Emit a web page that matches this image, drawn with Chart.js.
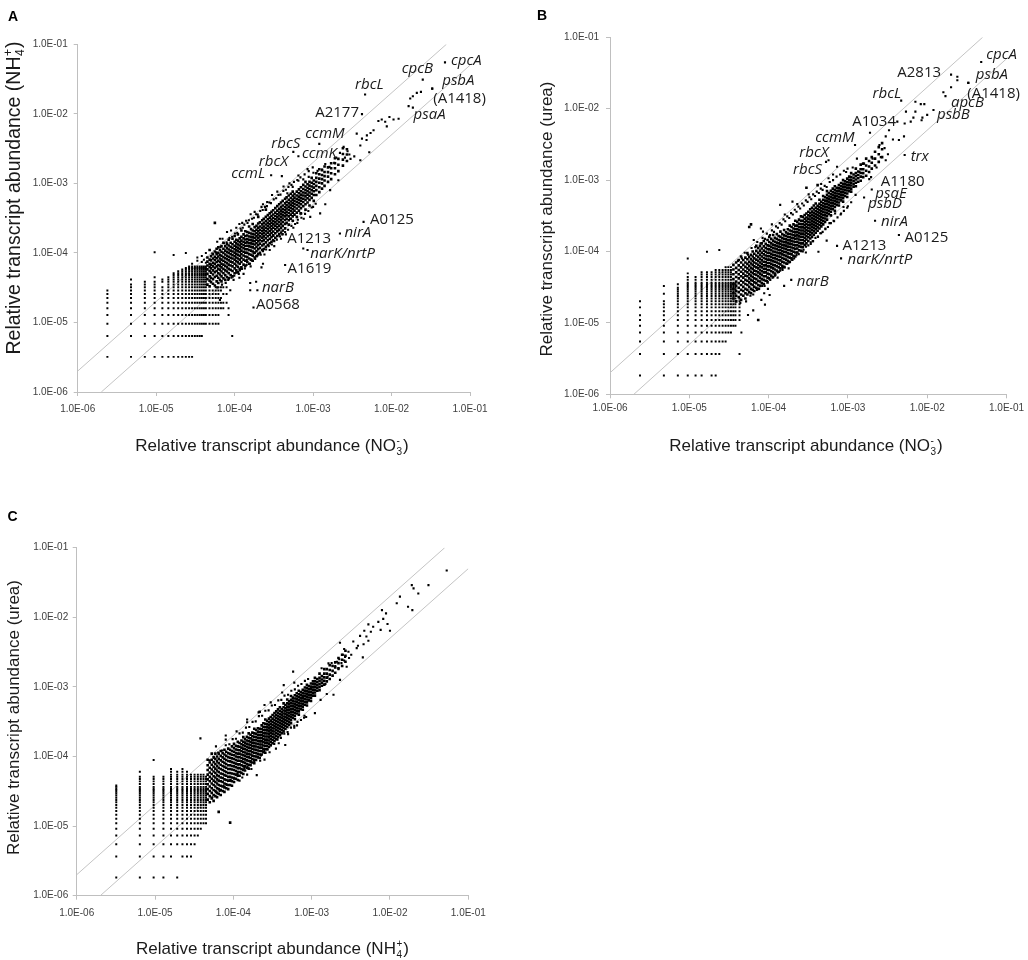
<!DOCTYPE html>
<html>
<head>
<meta charset="utf-8">
<title>Relative transcript abundance</title>
<script src="https://cdn.jsdelivr.net/npm/chart.js@4.4.1/dist/chart.umd.min.js"></script>
<style>
  html, body { margin: 0; padding: 0; background: #fff; }
  body { position: relative; width: 1028px; height: 960px; overflow: hidden; }
  canvas { position: absolute; }
</style>
</head>
<body>
<canvas id="panelA" width="514" height="470" style="left:0;top:0"></canvas>
<canvas id="panelB" width="514" height="470" style="left:514px;top:0"></canvas>
<canvas id="panelC" width="514" height="490" style="left:0;top:470px"></canvas>
<script>
// axis ticks shared by all three panels
const decadeTicks = [1e-6, 1e-5, 1e-4, 1e-3, 1e-2, 1e-1];
const decadeLabels = ['1.0E-06', '1.0E-05', '1.0E-04', '1.0E-03', '1.0E-02', '1.0E-01'];

// two-fold guide lines
const twoFoldUp = [[1e-6, 2e-6], [5e-2, 1e-1]];
const twoFoldDown = [[2e-6, 1e-6], [1e-1, 5e-2]];

// ---- panel A: NO3- (x) vs NH4+ (y) ----
// low-count genes sit on a grid: [x, [y values in that column]]
const gridA = [
  [2.39e-6, [3.2e-6,6.4e-6,9.6e-6,1.28e-5,1.6e-5,1.92e-5,2.24e-5,2.56e-5,2.88e-5]],
  [4.78e-6, [3.2e-6,6.4e-6,9.6e-6,1.28e-5,1.6e-5,1.92e-5,2.24e-5,2.56e-5,2.88e-5,3.2e-5,3.52e-5,4.16e-5]],
  [7.17e-6, [3.2e-6,6.4e-6,9.6e-6,1.28e-5,1.6e-5,1.92e-5,2.24e-5,2.56e-5,2.88e-5,3.2e-5,3.52e-5,3.84e-5]],
  [9.56e-6, [3.2e-6,6.4e-6,9.6e-6,1.28e-5,1.6e-5,1.92e-5,2.24e-5,2.56e-5,2.88e-5,3.2e-5,3.52e-5,3.84e-5,4.48e-5,1.02e-4]],
  [1.2e-5, [3.2e-6,6.4e-6,9.6e-6,1.28e-5,1.6e-5,1.92e-5,2.24e-5,2.56e-5,2.88e-5,3.2e-5,3.84e-5,4.16e-5]],
  [1.43e-5, [3.2e-6,6.4e-6,9.6e-6,1.28e-5,1.6e-5,1.92e-5,2.24e-5,2.56e-5,2.88e-5,3.2e-5,3.52e-5,3.84e-5,4.16e-5,4.48e-5]],
  [1.67e-5, [3.2e-6,6.4e-6,9.6e-6,1.28e-5,1.6e-5,1.92e-5,2.24e-5,2.56e-5,2.88e-5,3.2e-5,3.52e-5,3.84e-5,4.16e-5,4.48e-5,4.8e-5,5.12e-5,9.3e-5]],
  [1.91e-5, [3.2e-6,6.4e-6,9.6e-6,1.28e-5,1.6e-5,1.92e-5,2.24e-5,2.56e-5,2.88e-5,3.2e-5,3.52e-5,3.84e-5,4.16e-5,4.48e-5,4.8e-5,5.12e-5,5.44e-5]],
  [2.15e-5, [3.2e-6,6.4e-6,9.6e-6,1.28e-5,1.6e-5,1.92e-5,2.24e-5,2.56e-5,2.88e-5,3.2e-5,3.52e-5,3.84e-5,4.16e-5,4.48e-5,4.8e-5,5.12e-5,5.44e-5,5.76e-5]],
  [2.39e-5, [3.2e-6,6.4e-6,9.6e-6,1.28e-5,1.6e-5,1.92e-5,2.24e-5,2.56e-5,2.88e-5,3.2e-5,3.52e-5,3.84e-5,4.16e-5,4.48e-5,4.8e-5,5.12e-5,5.44e-5,5.76e-5,6.08e-5,1.0e-4]],
  [2.63e-5, [3.2e-6,6.4e-6,9.6e-6,1.28e-5,1.6e-5,1.92e-5,2.24e-5,2.56e-5,2.88e-5,3.2e-5,3.52e-5,3.84e-5,4.16e-5,4.48e-5,4.8e-5,5.12e-5,5.44e-5,5.76e-5,6.08e-5,6.4e-5]],
  [2.87e-5, [3.2e-6,6.4e-6,9.6e-6,1.28e-5,1.6e-5,1.92e-5,2.24e-5,2.56e-5,2.88e-5,3.2e-5,3.52e-5,3.84e-5,4.16e-5,4.48e-5,4.8e-5,5.12e-5,5.44e-5,5.76e-5,6.08e-5,6.4e-5,7.0e-5]],
  [3.11e-5, [6.4e-6,9.6e-6,1.28e-5,1.6e-5,1.92e-5,2.24e-5,2.56e-5,2.88e-5,3.2e-5,3.52e-5,3.84e-5,4.16e-5,4.48e-5,4.8e-5,5.12e-5,5.44e-5,5.76e-5,6.08e-5,6.4e-5]],
  [3.35e-5, [6.4e-6,9.6e-6,1.28e-5,1.6e-5,1.92e-5,2.24e-5,2.56e-5,2.88e-5,3.2e-5,3.52e-5,3.84e-5,4.16e-5,4.48e-5,4.8e-5,5.12e-5,5.44e-5,5.76e-5,6.08e-5,6.4e-5,7.7e-5,8.6e-5]],
  [3.59e-5, [6.4e-6,9.6e-6,1.28e-5,1.6e-5,1.92e-5,2.24e-5,2.56e-5,2.88e-5,3.2e-5,3.52e-5,3.84e-5,4.16e-5,4.48e-5,4.8e-5,5.12e-5,5.44e-5,5.76e-5,6.08e-5,6.4e-5]],
  [3.82e-5, [6.4e-6,9.6e-6,1.28e-5,1.6e-5,1.92e-5,2.24e-5,2.56e-5,2.88e-5,3.2e-5,3.52e-5,3.84e-5,4.16e-5,4.48e-5,4.8e-5,5.12e-5,5.44e-5,5.76e-5,6.08e-5,6.4e-5,7.4e-5,9.0e-5]],
  [4.06e-5, [9.6e-6,1.28e-5,1.6e-5,1.92e-5,2.24e-5,2.56e-5,2.88e-5,3.2e-5,3.52e-5,3.84e-5,4.16e-5,4.48e-5,4.8e-5,5.12e-5,5.44e-5,5.76e-5,6.08e-5,6.4e-5,8.0e-5]],
  [4.3e-5, [9.6e-6,1.28e-5,1.6e-5,1.92e-5,2.24e-5,2.56e-5,2.88e-5,3.2e-5,3.52e-5,3.84e-5,4.16e-5,4.48e-5,4.8e-5,5.12e-5,5.44e-5,5.76e-5,6.08e-5,6.4e-5,7.2e-5,1.0e-4]],
  [4.78e-5, [9.6e-6,1.28e-5,1.6e-5,1.92e-5,2.24e-5,2.56e-5,2.88e-5]],
  [5.26e-5, [9.6e-6,1.28e-5,1.6e-5,1.92e-5,2.24e-5,2.56e-5,2.88e-5]],
  [5.74e-5, [9.6e-6,1.28e-5,1.6e-5,1.92e-5,2.24e-5,2.56e-5,2.88e-5,3.2e-5]],
  [6.21e-5, [9.6e-6,1.28e-5,1.6e-5,1.92e-5,2.24e-5,2.56e-5,2.88e-5,3.2e-5]],
  [6.69e-5, [1.6e-5,1.92e-5,2.24e-5,2.88e-5,3.2e-5]],
  [7.17e-5, [1.6e-5,1.92e-5,2.56e-5,3.2e-5]],
  [7.9e-5, [1.92e-5,2.56e-5,3.2e-5]],
  [8.37e-5, [1.28e-5,1.6e-5]],
  [9.32e-5, [6.4e-6]]
];
// dense part of the cloud: [x, [y values]]
const cloudA = [
  [4.5e-5, [3.5e-5,4.2e-5,5.0e-5,5.8e-5,6.6e-5,7.5e-5,8.6e-5]],
  [4.8e-5, [3.3e-5,4.0e-5,4.6e-5,5.5e-5,6.3e-5,7.0e-5,8.0e-5,1.1e-4]],
  [5.0e-5, [3.8e-5,4.4e-5,5.2e-5,6.0e-5,6.8e-5,7.8e-5,9.0e-5]],
  [5.3e-5, [3.6e-5,4.2e-5,4.9e-5,5.6e-5,6.4e-5,7.2e-5,8.3e-5,9.6e-5]],
  [5.6e-5, [3.4e-5,4.5e-5,5.3e-5,6.1e-5,7.0e-5,7.9e-5,8.8e-5,1.05e-4,2.7e-4]],
  [5.9e-5, [3.9e-5,4.7e-5,5.5e-5,6.4e-5,7.4e-5,8.4e-5,9.6e-5,1.15e-4]],
  [6.2e-5, [3.7e-5,4.4e-5,5.1e-5,5.9e-5,6.7e-5,7.7e-5,8.9e-5,1.0e-4,1.2e-4]],
  [6.5e-5, [4.1e-5,4.9e-5,5.7e-5,6.5e-5,7.4e-5,8.3e-5,9.4e-5,1.1e-4]],
  [6.8e-5, [3.9e-5,4.6e-5,5.4e-5,6.2e-5,7.0e-5,8.0e-5,9.1e-5,1.04e-4,1.25e-4]],
  [7.2e-5, [4.3e-5,5.1e-5,5.9e-5,6.8e-5,7.7e-5,8.7e-5,1.0e-4,1.15e-4,1.4e-4]],
  [7.6e-5, [4.1e-5,4.8e-5,5.6e-5,6.5e-5,7.4e-5,8.4e-5,9.5e-5,1.08e-4,1.25e-4]],
  [8.0e-5, [4.5e-5,5.4e-5,6.2e-5,7.1e-5,8.1e-5,9.1e-5,1.03e-4,1.17e-4,1.35e-4]],
  [8.4e-5, [4.3e-5,5.1e-5,5.9e-5,6.8e-5,7.8e-5,8.8e-5,1.0e-4,1.12e-4,1.28e-4,1.55e-4]],
  [8.9e-5, [4.8e-5,5.7e-5,6.6e-5,7.5e-5,8.5e-5,9.6e-5,1.08e-4,1.22e-4,1.4e-4]],
  [9.4e-5, [4.6e-5,5.5e-5,6.4e-5,7.3e-5,8.3e-5,9.3e-5,1.05e-4,1.18e-4,1.33e-4,1.6e-4]],
  [1.0e-4, [5.1e-5,6.0e-5,7.0e-5,8.0e-5,9.0e-5,1.01e-4,1.13e-4,1.27e-4,1.45e-4,1.75e-4]],
  [1.05e-4, [5.6e-5,6.6e-5,7.6e-5,8.6e-5,9.7e-5,1.09e-4,1.22e-4,1.37e-4,1.55e-4]],
  [1.1e-4, [5.3e-5,6.3e-5,7.3e-5,8.3e-5,9.4e-5,1.06e-4,1.18e-4,1.32e-4,1.5e-4,1.85e-4]],
  [1.16e-4, [5.9e-5,7.0e-5,8.0e-5,9.1e-5,1.03e-4,1.15e-4,1.28e-4,1.43e-4,1.62e-4]],
  [1.22e-4, [6.2e-5,7.4e-5,8.5e-5,9.6e-5,1.08e-4,1.21e-4,1.35e-4,1.5e-4,1.7e-4,2.1e-4]],
  [1.3e-4, [6.8e-5,8.0e-5,9.2e-5,1.04e-4,1.17e-4,1.3e-4,1.45e-4,1.62e-4,1.85e-4]],
  [1.37e-4, [6.5e-5,7.7e-5,8.9e-5,1.01e-4,1.13e-4,1.26e-4,1.4e-4,1.56e-4,1.75e-4,2.05e-4]],
  [1.45e-4, [7.4e-5,8.7e-5,1.0e-4,1.13e-4,1.27e-4,1.42e-4,1.58e-4,1.78e-4,2.0e-4]],
  [1.53e-4, [7.0e-5,8.3e-5,9.6e-5,1.1e-4,1.24e-4,1.38e-4,1.54e-4,1.72e-4,1.95e-4,2.4e-4]],
  [1.62e-4, [8.0e-5,9.4e-5,1.08e-4,1.22e-4,1.37e-4,1.53e-4,1.7e-4,1.9e-4,2.2e-4]],
  [1.7e-4, [7.7e-5,9.1e-5,1.05e-4,1.2e-4,1.35e-4,1.5e-4,1.67e-4,1.86e-4,2.1e-4,2.6e-4]],
  [1.8e-4, [8.6e-5,1.01e-4,1.16e-4,1.32e-4,1.48e-4,1.65e-4,1.84e-4,2.05e-4,2.35e-4]],
  [1.9e-4, [9.0e-5,1.06e-4,1.22e-4,1.38e-4,1.55e-4,1.73e-4,1.93e-4,2.15e-4,2.45e-4]],
  [2.0e-4, [9.6e-5,1.13e-4,1.3e-4,1.47e-4,1.65e-4,1.84e-4,2.05e-4,2.3e-4,2.65e-4,3.3e-4]],
  [2.1e-4, [1.0e-4,1.18e-4,1.36e-4,1.54e-4,1.73e-4,1.93e-4,2.15e-4,2.4e-4,2.75e-4]],
  [2.25e-4, [1.1e-4,1.28e-4,1.47e-4,1.66e-4,1.86e-4,2.07e-4,2.3e-4,2.57e-4,2.95e-4]],
  [2.35e-4, [1.14e-4,1.33e-4,1.53e-4,1.73e-4,1.94e-4,2.16e-4,2.4e-4,2.7e-4,3.1e-4]],
  [2.5e-4, [1.22e-4,1.42e-4,1.63e-4,1.84e-4,2.06e-4,2.3e-4,2.56e-4,2.87e-4,3.3e-4,4.2e-4]],
  [2.65e-4, [1.3e-4,1.52e-4,1.74e-4,1.96e-4,2.2e-4,2.45e-4,2.72e-4,3.05e-4,3.5e-4]],
  [2.8e-4, [1.38e-4,1.6e-4,1.83e-4,2.07e-4,2.32e-4,2.58e-4,2.88e-4,3.22e-4,3.7e-4]],
  [2.95e-4, [1.45e-4,1.69e-4,1.93e-4,2.18e-4,2.44e-4,2.72e-4,3.03e-4,3.4e-4,3.9e-4]],
  [3.1e-4, [1.52e-4,1.77e-4,2.03e-4,2.3e-4,2.57e-4,2.86e-4,3.18e-4,3.57e-4,4.1e-4]],
  [3.3e-4, [1.65e-4,1.92e-4,2.2e-4,2.47e-4,2.75e-4,3.05e-4,3.4e-4,3.8e-4,4.4e-4]],
  [3.5e-4, [1.75e-4,2.04e-4,2.33e-4,2.62e-4,2.92e-4,3.25e-4,3.6e-4,4.05e-4,4.7e-4]],
  [3.7e-4, [1.85e-4,2.16e-4,2.47e-4,2.78e-4,3.1e-4,3.45e-4,3.82e-4,4.3e-4,5.0e-4]],
  [3.9e-4, [1.97e-4,2.3e-4,2.62e-4,2.95e-4,3.28e-4,3.65e-4,4.05e-4,4.55e-4,5.3e-4]],
  [4.1e-4, [2.1e-4,2.45e-4,2.78e-4,3.12e-4,3.47e-4,3.85e-4,4.27e-4,4.8e-4,5.6e-4]],
  [4.4e-4, [2.25e-4,2.62e-4,2.98e-4,3.35e-4,3.72e-4,4.13e-4,4.58e-4,5.15e-4,6.0e-4]],
  [4.6e-4, [2.7e-4,3.1e-4,3.5e-4,3.9e-4,4.35e-4,4.85e-4,5.45e-4,6.3e-4]],
  [4.9e-4, [2.55e-4,2.95e-4,3.35e-4,3.75e-4,4.17e-4,4.63e-4,5.15e-4,5.8e-4,6.7e-4]],
  [5.2e-4, [3.1e-4,3.55e-4,4.0e-4,4.45e-4,4.95e-4,5.5e-4,6.15e-4,7.1e-4]],
  [5.5e-4, [2.9e-4,3.35e-4,3.8e-4,4.25e-4,4.72e-4,5.25e-4,5.85e-4,6.6e-4,7.6e-4]],
  [5.8e-4, [3.55e-4,4.05e-4,4.55e-4,5.05e-4,5.6e-4,6.25e-4,7.0e-4]],
  [6.2e-4, [3.3e-4,3.8e-4,4.35e-4,4.88e-4,5.42e-4,6.0e-4,6.7e-4,7.6e-4]],
  [6.6e-4, [4.05e-4,4.65e-4,5.2e-4,5.8e-4,6.45e-4,7.2e-4,8.2e-4]],
  [7.0e-4, [3.7e-4,4.4e-4,5.0e-4,5.6e-4,6.2e-4,6.9e-4,7.7e-4,8.8e-4]],
  [7.5e-4, [4.7e-4,5.4e-4,6.0e-4,6.7e-4,7.4e-4,8.3e-4,9.5e-4]],
  [8.0e-4, [4.2e-4,5.0e-4,5.8e-4,6.5e-4,7.2e-4,8.0e-4,9.0e-4,1.05e-3]],
  [8.5e-4, [5.3e-4,6.1e-4,6.9e-4,7.7e-4,8.6e-4,9.7e-4]],
  [9.0e-4, [4.8e-4,5.8e-4,6.6e-4,7.4e-4,8.3e-4,9.3e-4,1.05e-3]],
  [9.6e-4, [6.2e-4,7.1e-4,8.0e-4,9.0e-4,1.02e-3,1.2e-3]],
  [1.02e-3, [5.6e-4,6.8e-4,7.7e-4,8.7e-4,9.8e-4,1.1e-3]],
  [1.1e-3, [6.8e-4,8.0e-4,9.2e-4,1.05e-3,1.2e-3,1.4e-3]],
  [1.2e-3, [7.5e-4,8.8e-4,1.02e-3,1.17e-3,1.35e-3,1.6e-3]],
  [1.3e-3, [8.4e-4,1.0e-3,1.15e-3,1.32e-3,1.55e-3]],
  [1.4e-3, [9.2e-4,1.1e-3,1.27e-3,1.46e-3,1.75e-3]],
  [1.55e-3, [1.05e-3,1.25e-3,1.45e-3,1.7e-3]],
  [1.7e-3, [1.15e-3,1.4e-3,1.65e-3,1.95e-3]],
  [1.9e-3, [1.35e-3,1.65e-3,1.95e-3,2.3e-3]],
  [2.1e-3, [1.5e-3,1.85e-3,2.25e-3]],
  [2.4e-3, [1.8e-3,2.2e-3,2.65e-3,3.2e-3]],
  [2.7e-3, [2.1e-3,2.6e-3,3.1e-3]]
];
// loose points along the edges of the cloud
const fringeA = [
  [5.2e-5,9.8e-5],[5.8e-5,1.02e-4],[6.6e-5,1.21e-4],[7.3e-5,1.38e-4],[7.9e-5,1.42e-4],[8.6e-5,1.63e-4],[9.3e-5,1.71e-4],
  [1.01e-4,1.9e-4],[1.08e-4,1.95e-4],[1.19e-4,2.24e-4],[1.27e-4,2.3e-4],[1.33e-4,2.55e-4],[1.46e-4,2.7e-4],[1.52e-4,2.95e-4],
  [1.67e-4,3.1e-4],[1.76e-4,3.2e-4],[1.88e-4,3.6e-4],[1.97e-4,3.55e-4],[2.12e-4,4.0e-4],[2.28e-4,4.15e-4],[2.44e-4,4.6e-4],
  [2.58e-4,4.7e-4],[2.77e-4,5.3e-4],[2.9e-4,5.2e-4],[3.15e-4,5.9e-4],[3.38e-4,6.1e-4],[3.62e-4,6.8e-4],[3.84e-4,6.9e-4],
  [4.18e-4,7.8e-4],[4.5e-4,8.1e-4],[4.85e-4,8.9e-4],[5.3e-4,9.5e-4],[5.7e-4,1.05e-3],[6.3e-4,1.12e-3],[6.9e-4,1.22e-3],
  [7.8e-4,1.35e-3],[8.8e-4,1.5e-3],[9.9e-4,1.7e-3],
  [6.0e-5,3.2e-5],[6.9e-5,3.5e-5],[7.7e-5,3.7e-5],[8.3e-5,4.1e-5],[9.1e-5,4.4e-5],[9.9e-5,4.7e-5],[1.06e-4,5.2e-5],
  [1.13e-4,5.0e-5],[1.24e-4,5.9e-5],[1.35e-4,6.0e-5],[1.42e-4,6.7e-5],[1.57e-4,7.0e-5],[1.66e-4,7.8e-5],[1.83e-4,8.2e-5],
  [1.95e-4,9.1e-5],[2.15e-4,9.4e-5],[2.3e-4,1.06e-4],[2.52e-4,1.12e-4],[2.72e-4,1.25e-4],[2.98e-4,1.32e-4],[3.2e-4,1.48e-4],
  [3.45e-4,1.55e-4],[3.78e-4,1.72e-4],[4.05e-4,1.85e-4],[4.4e-4,2.0e-4],[4.8e-4,2.15e-4],[5.3e-4,2.45e-4],[5.9e-4,2.6e-4],
  [6.4e-4,3.0e-4],[7.1e-4,3.2e-4],[7.9e-4,3.65e-4],[8.7e-4,4.0e-4],[9.6e-4,4.5e-4],[1.08e-3,5.1e-4]
];
// scattered genes around the cloud
const spotsA = [
  [1.73e-2,1.66e-2],[1.87e-2,1.79e-2],[2.1e-2,2.0e-2],[2.37e-2,2.07e-2],[1.87e-2,1.23e-2],
  [6.8e-3,7.9e-3],[7.5e-3,8.3e-3],[8.3e-3,7.7e-3],[9.4e-3,9.0e-3],[1.06e-2,8.3e-3],[1.23e-2,8.5e-3],[8.7e-3,6.6e-3],
  [4.85e-3,4.9e-3],[5.4e-3,5.3e-3],[4.2e-3,4.4e-3],[5.9e-3,5.8e-3],[3.6e-3,5.2e-3],[4.8e-3,4.2e-3],[5.2e-3,2.8e-3],[4.0e-3,3.5e-3],
  [2.45e-3,3.35e-3],[2.75e-3,2.9e-3],[2.9e-3,2.6e-3],[2.55e-3,2.35e-3],[3.0e-3,2.25e-3],[3.35e-3,2.45e-3],[2.2e-3,2.75e-3],
  [1.97e-3,2.35e-3],[1.86e-3,1.97e-3],[1.62e-3,1.73e-3],[1.43e-3,1.89e-3],[1.3e-3,1.58e-3],[1.14e-3,1.51e-3],[1.01e-3,1.42e-3],
  [8.8e-4,1.24e-3],[7.5e-4,1.14e-3],[6.5e-4,1.09e-3],[5.5e-4,8.9e-4],[4.7e-4,7.2e-4],
  [2.1e-3,1.11e-3],[1.65e-3,8.0e-4],[1.43e-3,5.0e-4],[1.23e-3,3.7e-4],[9.2e-4,3.3e-4],[4.0e-3,2.15e-3],
  [3.6e-4,2.1e-4],[3.1e-4,1.8e-4],[8.5e-4,1.1e-4],[2.3e-4,7.0e-5],[2.2e-4,6.2e-5],[1.58e-4,3.7e-5],[1.88e-4,3.85e-5],[1.58e-4,2.9e-5],
  [6.9e-4,3.7e-4],[5.1e-4,3.1e-4],[2.1e-4,1.53e-4],[1.74e-4,9.8e-5],[1.43e-4,7.9e-5],[1.17e-4,5.6e-5],[9.7e-5,4.1e-5],[8.8e-5,2.9e-5],[6.5e-5,2.1e-5],
  [1.15e-4,2.6e-4],[1.4e-4,2.9e-4],[1.6e-4,3.6e-4],[2.2e-4,4.6e-4],[3.0e-4,6.8e-4],[4.2e-4,9.0e-4],[8.0e-5,2.0e-4],[6.5e-5,1.6e-4],
  [6.0e-5,1.45e-4],[7.0e-5,1.6e-4],[9.0e-5,2.1e-4],[1.25e-4,2.7e-4],[1.8e-4,3.9e-4],[2.6e-4,5.4e-4],[3.5e-4,7.6e-4],
  [5.0e-4,1.0e-3],[6.5e-4,1.3e-3],[8.5e-4,1.6e-3],[2.3e-4,5.0e-4],[1.05e-4,2.3e-4],
  [1.3e-4,5.0e-5],[1.6e-4,6.4e-5],[2.4e-4,9.5e-5],[3.2e-4,1.25e-4],[4.5e-4,1.85e-4],[5.6e-4,2.3e-4],[7.6e-4,3.1e-4],
  [1.0e-3,4.6e-4],[1.15e-4,4.4e-5],[2.8e-4,1.1e-4],[3.9e-4,1.6e-4],[6.3e-4,2.7e-4]
];
const genesA = [
  ['cpcA',4.8e-2,5.5e-2],['cpcB',2.5e-2,3.1e-2],['psbA',3.3e-2,2.3e-2],['(A1418)',3.3e-2,2.3e-2],['psaA',1.65e-2,1.29e-2],
  ['rbcL',4.6e-3,1.9e-2],['A2177',4.2e-3,9.9e-3],['ccmM',1.2e-3,3.7e-3],['rbcS',5.6e-4,2.84e-3],['ccmK',6.5e-4,2.46e-3],
  ['rbcX',4.0e-4,1.27e-3],['ccmL',2.92e-4,1.31e-3],['A0125',4.4e-3,2.8e-4],['nirA',2.2e-3,1.9e-4],['A1213',4.1e-4,1.86e-4],
  ['narK/nrtP',7.5e-4,1.16e-4],['A1619',4.4e-4,6.7e-5],['narB',1.95e-4,2.9e-5],['A0568',1.74e-4,1.64e-5]
];

// ---- panel B: NO3- (x) vs urea (y) ----
const gridB = [
  [2.39e-6, [1.83e-6,3.66e-6,5.49e-6,7.32e-6,9.15e-6,1.1e-5,1.28e-5,1.65e-5,2.01e-5]],
  [4.78e-6, [1.83e-6,3.66e-6,5.49e-6,7.32e-6,9.15e-6,1.1e-5,1.28e-5,1.46e-5,1.65e-5,1.83e-5,2.01e-5,2.56e-5,3.29e-5]],
  [7.17e-6, [1.83e-6,3.66e-6,5.49e-6,7.32e-6,9.15e-6,1.1e-5,1.28e-5,1.46e-5,1.65e-5,1.83e-5,2.01e-5,2.2e-5,2.38e-5,2.56e-5,2.75e-5,2.93e-5,3.11e-5,3.48e-5]],
  [9.56e-6, [1.83e-6,3.66e-6,5.49e-6,7.32e-6,9.15e-6,1.1e-5,1.28e-5,1.46e-5,1.65e-5,1.83e-5,2.01e-5,2.2e-5,2.38e-5,2.56e-5,2.75e-5,2.93e-5,3.11e-5,3.29e-5,3.48e-5,3.66e-5,4.03e-5,4.39e-5,4.94e-5,8.0e-5]],
  [1.2e-5, [1.83e-6,3.66e-6,5.49e-6,7.32e-6,9.15e-6,1.1e-5,1.28e-5,1.46e-5,1.65e-5,1.83e-5,2.01e-5,2.2e-5,2.38e-5,2.56e-5,2.75e-5,2.93e-5,3.11e-5,3.29e-5,3.48e-5,3.66e-5,4.03e-5,4.39e-5]],
  [1.43e-5, [1.83e-6,3.66e-6,5.49e-6,7.32e-6,9.15e-6,1.1e-5,1.28e-5,1.46e-5,1.65e-5,1.83e-5,2.01e-5,2.2e-5,2.38e-5,2.56e-5,2.75e-5,2.93e-5,3.11e-5,3.29e-5,3.48e-5,3.66e-5,4.03e-5,4.39e-5,4.76e-5,5.12e-5]],
  [1.67e-5, [3.66e-6,5.49e-6,7.32e-6,9.15e-6,1.1e-5,1.28e-5,1.46e-5,1.65e-5,1.83e-5,2.01e-5,2.2e-5,2.38e-5,2.56e-5,2.75e-5,2.93e-5,3.11e-5,3.29e-5,3.48e-5,3.66e-5,4.03e-5,4.39e-5,4.76e-5,5.12e-5,9.9e-5]],
  [1.91e-5, [1.83e-6,3.66e-6,5.49e-6,7.32e-6,9.15e-6,1.1e-5,1.28e-5,1.46e-5,1.65e-5,1.83e-5,2.01e-5,2.2e-5,2.38e-5,2.56e-5,2.75e-5,2.93e-5,3.11e-5,3.29e-5,3.48e-5,3.66e-5,4.03e-5,4.39e-5,4.76e-5,5.12e-5]],
  [2.15e-5, [1.83e-6,3.66e-6,5.49e-6,7.32e-6,9.15e-6,1.1e-5,1.28e-5,1.46e-5,1.65e-5,1.83e-5,2.01e-5,2.2e-5,2.38e-5,2.56e-5,2.75e-5,2.93e-5,3.11e-5,3.29e-5,3.48e-5,3.66e-5,4.03e-5,4.39e-5,4.76e-5,5.12e-5,5.49e-5]],
  [2.39e-5, [3.66e-6,5.49e-6,7.32e-6,9.15e-6,1.1e-5,1.28e-5,1.46e-5,1.65e-5,1.83e-5,2.01e-5,2.2e-5,2.38e-5,2.56e-5,2.75e-5,2.93e-5,3.11e-5,3.29e-5,3.48e-5,3.66e-5,4.03e-5,4.39e-5,4.76e-5,5.12e-5,5.49e-5,1.05e-4]],
  [2.63e-5, [5.49e-6,7.32e-6,9.15e-6,1.1e-5,1.28e-5,1.46e-5,1.65e-5,1.83e-5,2.01e-5,2.2e-5,2.38e-5,2.56e-5,2.75e-5,2.93e-5,3.11e-5,3.29e-5,3.48e-5,3.66e-5,4.03e-5,4.39e-5,4.76e-5,5.12e-5,5.49e-5]],
  [2.87e-5, [5.49e-6,7.32e-6,9.15e-6,1.1e-5,1.28e-5,1.46e-5,1.65e-5,1.83e-5,2.01e-5,2.2e-5,2.38e-5,2.56e-5,2.75e-5,2.93e-5,3.11e-5,3.29e-5,3.48e-5,3.66e-5,4.03e-5,4.39e-5,4.76e-5,5.12e-5,5.49e-5,6.04e-5]],
  [3.11e-5, [7.32e-6,9.15e-6,1.1e-5,1.28e-5,1.46e-5,1.65e-5,1.83e-5,2.01e-5,2.2e-5,2.38e-5,2.56e-5,2.75e-5,2.93e-5,3.11e-5,3.29e-5,3.48e-5,3.66e-5,4.03e-5,4.39e-5,4.76e-5,5.12e-5,5.49e-5,6.04e-5]],
  [3.35e-5, [7.32e-6,9.15e-6,1.1e-5,1.28e-5,1.46e-5,1.65e-5,1.83e-5,2.01e-5,2.2e-5,2.38e-5,2.56e-5,2.75e-5,2.93e-5,3.11e-5,3.29e-5,3.48e-5,3.66e-5,4.03e-5,4.39e-5,4.76e-5,5.12e-5,5.49e-5,6.04e-5]],
  [3.59e-5, [9.15e-6,1.1e-5,1.28e-5,1.46e-5,1.65e-5,1.83e-5,2.01e-5,2.2e-5,2.38e-5,2.56e-5,2.75e-5,2.93e-5,3.11e-5,3.29e-5,3.48e-5,3.66e-5]],
  [3.82e-5, [9.15e-6,1.1e-5,1.28e-5,1.46e-5,1.65e-5,1.83e-5,2.01e-5,2.2e-5,2.38e-5,2.56e-5,2.75e-5,2.93e-5,3.11e-5,3.29e-5,3.48e-5,3.66e-5]],
  [4.3e-5, [3.66e-6,1.1e-5,1.28e-5,1.46e-5,1.65e-5,1.83e-5,2.01e-5,2.2e-5]],
  [4.54e-5, [7.32e-6]]
];
const cloudB = [
  [3.6e-5, [2.2e-5,2.6e-5,3.0e-5,3.5e-5,4.1e-5,4.8e-5,5.6e-5,6.5e-5]],
  [3.9e-5, [2.0e-5,2.4e-5,2.8e-5,3.3e-5,3.8e-5,4.4e-5,5.1e-5,5.9e-5,7.0e-5]],
  [4.2e-5, [2.3e-5,2.7e-5,3.1e-5,3.6e-5,4.2e-5,4.8e-5,5.5e-5,6.4e-5,7.6e-5]],
  [4.5e-5, [2.1e-5,2.5e-5,2.9e-5,3.4e-5,3.9e-5,4.5e-5,5.2e-5,6.0e-5,7.0e-5,8.5e-5]],
  [4.8e-5, [2.4e-5,2.8e-5,3.2e-5,3.7e-5,4.3e-5,4.9e-5,5.6e-5,6.5e-5,7.6e-5]],
  [5.1e-5, [2.2e-5,2.6e-5,3.0e-5,3.5e-5,4.0e-5,4.6e-5,5.3e-5,6.1e-5,7.0e-5,8.2e-5]],
  [5.4e-5, [2.5e-5,2.9e-5,3.4e-5,3.9e-5,4.5e-5,5.1e-5,5.8e-5,6.7e-5,7.8e-5,9.5e-5]],
  [5.7e-5, [2.7e-5,3.2e-5,3.7e-5,4.2e-5,4.8e-5,5.5e-5,6.3e-5,7.2e-5,8.4e-5,2.2e-4]],
  [6.0e-5, [2.6e-5,3.0e-5,3.5e-5,4.0e-5,4.6e-5,5.2e-5,5.9e-5,6.8e-5,7.8e-5,9.0e-5,2.4e-4]],
  [6.3e-5, [2.9e-5,3.4e-5,3.9e-5,4.4e-5,5.0e-5,5.7e-5,6.5e-5,7.4e-5,8.5e-5,1.0e-4]],
  [6.6e-5, [2.8e-5,3.2e-5,3.7e-5,4.2e-5,4.8e-5,5.4e-5,6.2e-5,7.0e-5,8.0e-5,9.3e-5]],
  [7.0e-5, [3.1e-5,3.6e-5,4.1e-5,4.7e-5,5.3e-5,6.0e-5,6.8e-5,7.7e-5,8.8e-5,1.02e-4,1.2e-4]],
  [7.4e-5, [1.1e-5,3.0e-5,3.4e-5,3.9e-5,4.5e-5,5.1e-5,5.8e-5,6.5e-5,7.4e-5,8.4e-5,9.6e-5,1.12e-4]],
  [7.8e-5, [3.3e-5,3.8e-5,4.3e-5,4.9e-5,5.5e-5,6.2e-5,7.0e-5,7.9e-5,9.0e-5,1.03e-4,1.2e-4]],
  [8.2e-5, [3.6e-5,4.1e-5,4.7e-5,5.3e-5,6.0e-5,6.7e-5,7.5e-5,8.5e-5,9.6e-5,1.1e-4,1.3e-4]],
  [8.7e-5, [3.5e-5,4.0e-5,4.5e-5,5.1e-5,5.7e-5,6.4e-5,7.2e-5,8.1e-5,9.1e-5,1.03e-4,1.18e-4,1.4e-4]],
  [9.2e-5, [3.9e-5,4.5e-5,5.1e-5,5.7e-5,6.4e-5,7.1e-5,7.9e-5,8.8e-5,9.9e-5,1.12e-4,1.28e-4]],
  [9.7e-5, [3.7e-5,4.3e-5,4.9e-5,5.5e-5,6.2e-5,6.9e-5,7.7e-5,8.6e-5,9.6e-5,1.08e-4,1.22e-4,1.45e-4]],
  [1.02e-4, [4.2e-5,4.8e-5,5.5e-5,6.2e-5,6.9e-5,7.7e-5,8.6e-5,9.6e-5,1.07e-4,1.2e-4,1.36e-4,1.6e-4]],
  [1.08e-4, [4.6e-5,5.3e-5,6.0e-5,6.7e-5,7.5e-5,8.4e-5,9.3e-5,1.04e-4,1.16e-4,1.3e-4,1.5e-4]],
  [1.14e-4, [4.4e-5,5.1e-5,5.8e-5,6.5e-5,7.3e-5,8.1e-5,9.0e-5,1.0e-4,1.12e-4,1.25e-4,1.42e-4,1.7e-4]],
  [1.2e-4, [4.9e-5,5.6e-5,6.4e-5,7.2e-5,8.0e-5,8.9e-5,9.9e-5,1.1e-4,1.22e-4,1.37e-4,1.55e-4]],
  [1.27e-4, [5.4e-5,6.2e-5,7.0e-5,7.8e-5,8.7e-5,9.7e-5,1.08e-4,1.2e-4,1.33e-4,1.5e-4,1.75e-4]],
  [1.34e-4, [5.2e-5,6.0e-5,6.8e-5,7.6e-5,8.5e-5,9.5e-5,1.05e-4,1.17e-4,1.3e-4,1.45e-4,1.65e-4]],
  [1.41e-4, [5.8e-5,6.6e-5,7.5e-5,8.4e-5,9.4e-5,1.04e-4,1.15e-4,1.28e-4,1.42e-4,1.6e-4,1.9e-4]],
  [1.49e-4, [6.3e-5,7.2e-5,8.1e-5,9.1e-5,1.01e-4,1.12e-4,1.24e-4,1.38e-4,1.54e-4,1.75e-4]],
  [1.57e-4, [6.1e-5,7.0e-5,7.9e-5,8.9e-5,9.9e-5,1.1e-4,1.22e-4,1.35e-4,1.5e-4,1.68e-4,2.0e-4]],
  [1.66e-4, [6.8e-5,7.7e-5,8.7e-5,9.8e-5,1.09e-4,1.21e-4,1.34e-4,1.48e-4,1.65e-4,1.85e-4]],
  [1.75e-4, [7.4e-5,8.4e-5,9.4e-5,1.05e-4,1.17e-4,1.3e-4,1.44e-4,1.6e-4,1.78e-4,2.05e-4]],
  [1.85e-4, [7.2e-5,8.2e-5,9.3e-5,1.04e-4,1.16e-4,1.29e-4,1.43e-4,1.58e-4,1.76e-4,1.97e-4,2.3e-4]],
  [1.95e-4, [8.0e-5,9.1e-5,1.02e-4,1.14e-4,1.27e-4,1.41e-4,1.56e-4,1.73e-4,1.93e-4,2.2e-4]],
  [2.06e-4, [8.7e-5,9.9e-5,1.11e-4,1.24e-4,1.38e-4,1.53e-4,1.69e-4,1.88e-4,2.1e-4,2.4e-4]],
  [2.17e-4, [8.5e-5,9.7e-5,1.09e-4,1.22e-4,1.36e-4,1.51e-4,1.67e-4,1.85e-4,2.06e-4,2.3e-4,2.7e-4]],
  [2.3e-4, [9.7e-5,1.1e-4,1.23e-4,1.37e-4,1.52e-4,1.68e-4,1.86e-4,2.06e-4,2.3e-4,2.6e-4]],
  [2.42e-4, [1.04e-4,1.18e-4,1.32e-4,1.47e-4,1.63e-4,1.8e-4,1.99e-4,2.2e-4,2.45e-4,2.8e-4]],
  [2.56e-4, [1.02e-4,1.16e-4,1.3e-4,1.45e-4,1.61e-4,1.78e-4,1.97e-4,2.18e-4,2.42e-4,2.7e-4,3.1e-4]],
  [2.7e-4, [1.15e-4,1.3e-4,1.45e-4,1.61e-4,1.78e-4,1.97e-4,2.18e-4,2.42e-4,2.7e-4,3.05e-4]],
  [2.85e-4, [1.24e-4,1.4e-4,1.56e-4,1.73e-4,1.91e-4,2.11e-4,2.33e-4,2.58e-4,2.87e-4,3.25e-4]],
  [3.0e-4, [1.3e-4,1.47e-4,1.64e-4,1.82e-4,2.01e-4,2.22e-4,2.45e-4,2.71e-4,3.0e-4,3.4e-4,7.8e-4]],
  [3.17e-4, [1.4e-4,1.58e-4,1.76e-4,1.95e-4,2.15e-4,2.37e-4,2.61e-4,2.89e-4,3.2e-4,3.6e-4]],
  [3.35e-4, [1.52e-4,1.71e-4,1.9e-4,2.1e-4,2.32e-4,2.55e-4,2.81e-4,3.1e-4,3.45e-4,3.9e-4]],
  [3.53e-4, [1.6e-4,1.8e-4,2.0e-4,2.21e-4,2.44e-4,2.68e-4,2.95e-4,3.26e-4,3.62e-4,4.1e-4]],
  [3.72e-4, [1.72e-4,1.93e-4,2.14e-4,2.36e-4,2.6e-4,2.86e-4,3.15e-4,3.48e-4,3.87e-4,4.4e-4]],
  [3.93e-4, [1.83e-4,2.05e-4,2.27e-4,2.5e-4,2.75e-4,3.03e-4,3.33e-4,3.68e-4,4.1e-4,4.7e-4]],
  [4.15e-4, [1.95e-4,2.18e-4,2.42e-4,2.67e-4,2.94e-4,3.23e-4,3.55e-4,3.92e-4,4.35e-4,8.5e-4]],
  [4.38e-4, [2.1e-4,2.35e-4,2.6e-4,2.87e-4,3.15e-4,3.46e-4,3.8e-4,4.2e-4,4.65e-4,5.3e-4]],
  [4.62e-4, [2.25e-4,2.5e-4,2.77e-4,3.05e-4,3.35e-4,3.68e-4,4.04e-4,4.45e-4,4.95e-4]],
  [4.88e-4, [2.4e-4,2.67e-4,2.95e-4,3.25e-4,3.57e-4,3.92e-4,4.3e-4,4.75e-4,5.3e-4,6.0e-4]],
  [5.15e-4, [2.6e-4,2.9e-4,3.2e-4,3.52e-4,3.87e-4,4.25e-4,4.66e-4,5.15e-4,5.75e-4]],
  [5.45e-4, [2.8e-4,3.12e-4,3.45e-4,3.8e-4,4.17e-4,4.58e-4,5.03e-4,5.55e-4,6.2e-4,7.0e-4]],
  [5.75e-4, [3.35e-4,3.7e-4,4.07e-4,4.47e-4,4.9e-4,5.37e-4,5.9e-4,6.6e-4]],
  [6.1e-4, [3.2e-4,3.6e-4,3.98e-4,4.38e-4,4.8e-4,5.26e-4,5.77e-4,6.35e-4,7.1e-4]],
  [6.45e-4, [3.9e-4,4.3e-4,4.72e-4,5.17e-4,5.66e-4,6.2e-4,6.8e-4,7.6e-4]],
  [6.85e-4, [3.7e-4,4.2e-4,4.62e-4,5.06e-4,5.54e-4,6.06e-4,6.64e-4,7.3e-4,8.2e-4]],
  [7.25e-4, [4.5e-4,4.95e-4,5.42e-4,5.93e-4,6.48e-4,7.1e-4,7.8e-4]],
  [7.7e-4, [4.4e-4,4.85e-4,5.35e-4,5.85e-4,6.4e-4,7.0e-4,7.65e-4,8.5e-4]],
  [8.2e-4, [5.2e-4,5.7e-4,6.25e-4,6.85e-4,7.5e-4,8.2e-4,9.1e-4]],
  [8.7e-4, [5.0e-4,5.6e-4,6.15e-4,6.75e-4,7.4e-4,8.1e-4,8.9e-4,1.0e-3]],
  [9.2e-4, [6.0e-4,6.6e-4,7.25e-4,7.95e-4,8.7e-4,9.6e-4]],
  [9.8e-4, [5.8e-4,6.5e-4,7.15e-4,7.85e-4,8.6e-4,9.4e-4,1.05e-3]],
  [1.04e-3, [7.0e-4,7.7e-4,8.45e-4,9.25e-4,1.01e-3,1.12e-3]],
  [1.1e-3, [6.9e-4,7.6e-4,8.4e-4,9.2e-4,1.0e-3,1.1e-3,1.25e-3]],
  [1.18e-3, [8.1e-4,8.9e-4,9.8e-4,1.08e-3,1.2e-3]],
  [1.26e-3, [8.2e-4,9.2e-4,1.02e-3,1.13e-3,1.25e-3,1.45e-3]],
  [1.35e-3, [9.5e-4,1.06e-3,1.18e-3,1.32e-3]],
  [1.45e-3, [9.8e-4,1.12e-3,1.26e-3,1.42e-3,1.65e-3]],
  [1.56e-3, [1.1e-3,1.25e-3,1.42e-3,1.7e-3]],
  [1.7e-3, [1.15e-3,1.35e-3,1.6e-3,2.0e-3]],
  [1.85e-3, [1.3e-3,1.55e-3,1.85e-3]],
  [2.0e-3, [1.45e-3,1.75e-3,2.1e-3]],
  [2.2e-3, [1.6e-3,2.0e-3,2.5e-3]],
  [2.45e-3, [1.8e-3,2.3e-3,2.9e-3]],
  [2.7e-3, [2.1e-3,2.7e-3,3.3e-3]]
];
const fringeB = [
  [4.1e-5,7.4e-5],[4.6e-5,8.0e-5],[5.0e-5,9.6e-5],[5.5e-5,9.0e-5],[6.1e-5,1.12e-4],[6.8e-5,1.15e-4],[7.2e-5,1.36e-4],
  [7.9e-5,1.3e-4],[8.4e-5,1.55e-4],[9.0e-5,1.5e-4],[9.5e-5,1.78e-4],[1.04e-4,1.7e-4],[1.1e-4,1.98e-4],[1.17e-4,1.88e-4],
  [1.24e-4,2.25e-4],[1.31e-4,2.15e-4],[1.38e-4,2.5e-4],[1.46e-4,2.38e-4],[1.54e-4,2.82e-4],[1.62e-4,2.65e-4],[1.72e-4,3.1e-4],
  [1.82e-4,2.95e-4],[1.92e-4,3.45e-4],[2.02e-4,3.3e-4],[2.14e-4,3.85e-4],[2.25e-4,3.6e-4],[2.38e-4,4.25e-4],[2.5e-4,4.0e-4],
  [2.65e-4,4.7e-4],[2.78e-4,4.4e-4],[2.95e-4,5.2e-4],[3.1e-4,4.95e-4],[3.28e-4,5.75e-4],[3.45e-4,5.4e-4],[3.65e-4,6.3e-4],
  [3.85e-4,6.0e-4],[4.05e-4,6.9e-4],[4.3e-4,6.6e-4],[4.55e-4,7.6e-4],[4.8e-4,7.3e-4],[5.1e-4,8.3e-4],[5.4e-4,8.0e-4],
  [5.9e-4,9.4e-4],[6.5e-4,1.0e-3],[7.2e-4,1.12e-3],[8.0e-4,1.2e-3],[8.9e-4,1.35e-3],[9.9e-4,1.45e-3],
  [4.4e-5,1.9e-5],[5.2e-5,2.0e-5],[5.9e-5,2.4e-5],[6.4e-5,2.5e-5],[7.1e-5,2.9e-5],[7.6e-5,3.0e-5],[8.3e-5,3.3e-5],
  [8.9e-5,3.3e-5],[9.6e-5,3.9e-5],[1.05e-4,4.0e-5],[1.12e-4,4.3e-5],[1.22e-4,4.7e-5],[1.3e-4,5.1e-5],[1.4e-4,5.4e-5],
  [1.5e-4,5.9e-5],[1.6e-4,6.0e-5],[1.71e-4,6.7e-5],[1.83e-4,7.0e-5],[1.96e-4,7.7e-5],[2.1e-4,8.0e-5],[2.25e-4,8.9e-5],
  [2.4e-4,9.2e-5],[2.58e-4,1.02e-4],[2.76e-4,1.06e-4],[2.96e-4,1.17e-4],[3.17e-4,1.22e-4],[3.4e-4,1.35e-4],[3.64e-4,1.4e-4],
  [3.9e-4,1.55e-4],[4.18e-4,1.62e-4],[4.48e-4,1.8e-4],[4.8e-4,1.88e-4],[5.2e-4,2.1e-4],[5.6e-4,2.2e-4],[6.1e-4,2.5e-4],
  [6.7e-4,2.65e-4],[7.4e-4,3.0e-4],[8.1e-4,3.3e-4],[8.9e-4,3.7e-4],[9.8e-4,4.1e-4]
];
const spotsB = [
  [2.4e-2,2.8e-2],[2.4e-2,2.5e-2],[1.6e-2,1.7e-2],[2.0e-2,2.0e-2],[1.0e-2,8.2e-3],[8.7e-3,7.5e-3],[8.5e-3,6.9e-3],
  [7.1e-3,1.25e-2],[8.3e-3,1.16e-2],[9.2e-3,1.16e-2],[5.4e-3,9.1e-3],[7.1e-3,9.1e-3],[4.2e-3,6.6e-3],[5.2e-3,6.2e-3],
  [6.2e-3,6.6e-3],[6.7e-3,7.5e-3],[5.3e-4,1.8e-3],
  [3.3e-3,5.0e-3],[3.0e-3,4.1e-3],[3.7e-3,3.7e-3],[4.4e-3,3.65e-3],[5.1e-3,4.1e-3],[2.5e-3,3.1e-3],[2.9e-3,2.8e-3],
  [2.6e-3,2.1e-3],[2.05e-3,2.0e-3],[1.6e-3,1.7e-3],[1.4e-3,1.3e-3],[1.96e-3,1.1e-3],[2.3e-3,1.5e-3],[3.2e-3,2.3e-3],
  [3.0e-3,1.9e-3],[1.15e-3,1.5e-3],[9.5e-4,1.3e-3],[1.3e-3,2.0e-3],
  [2.3e-4,9.7e-5],[2.95e-4,9.7e-5],[4.25e-4,9.9e-5],[5.4e-4,1.42e-4],[5.85e-4,2.5e-4],[6.9e-4,3.4e-4],[8.8e-4,4.2e-4],
  [1.73e-4,6.8e-5],[1.79e-4,5.8e-5],[1.57e-4,3.3e-5],[9.8e-5,3.0e-5],[8.8e-5,2.6e-5],[1.3e-4,4.3e-5],[3.6e-4,1.4e-4],
  [4.6e-4,1.8e-4],[1.1e-3,4.9e-4],[1.25e-3,6.2e-4],[5.5e-5,1.29e-5],[6.4e-5,1.5e-5],[8.1e-5,2.1e-5],[1.03e-4,2.46e-5],[9.0e-5,1.8e-5],
  [1.4e-4,4.5e-4],[5.7e-4,1.06e-3],[2.0e-4,5.0e-4],[8.0e-5,2.1e-4],
  [6.5e-5,1.45e-4],[8.5e-5,1.9e-4],[1.1e-4,2.4e-4],[1.6e-4,3.3e-4],[2.3e-4,4.6e-4],[3.2e-4,6.3e-4],[4.6e-4,8.8e-4],[6.5e-4,1.2e-3],
  [1.2e-4,4.6e-5],[1.5e-4,5.5e-5],[2.0e-4,7.6e-5],[2.7e-4,1.0e-4],[3.4e-4,1.28e-4],[4.2e-4,1.6e-4],[5.2e-4,2.05e-4],
  [6.6e-4,2.7e-4],[8.2e-4,3.4e-4],[1.0e-3,4.3e-4]
];
const genesB = [
  ['cpcA',4.8e-2,4.5e-2],['A2813',2.0e-2,3.0e-2],['psbA',3.3e-2,2.3e-2],['(A1418)',3.3e-2,2.3e-2],['apcB',1.7e-2,1.5e-2],
  ['psbB',1.2e-2,9.6e-3],['rbcL',4.7e-3,1.3e-2],['A1034',1.9e-3,4.6e-3],['ccmM',1.23e-3,3.1e-3],['rbcX',5.7e-4,1.9e-3],
  ['rbcS',7.3e-4,1.54e-3],['trx',5.2e-3,2.25e-3],['A1180',1.86e-3,1.03e-3],['psaE',2.0e-3,7.4e-4],['psbD',1.6e-3,5.7e-4],
  ['nirA',2.2e-3,2.7e-4],['A0125',4.4e-3,1.7e-4],['A1213',7.3e-4,1.2e-4],['narK/nrtP',8.2e-4,8.0e-5],['narB',1.93e-4,4.0e-5]
];

// ---- panel C: NH4+ (x) vs urea (y) ----
const gridC = [
  [3.2e-6, [1.83e-6,3.66e-6,5.49e-6,7.32e-6,9.15e-6,1.1e-5,1.28e-5,1.46e-5,1.65e-5,1.83e-5,2.01e-5,2.2e-5,2.38e-5,2.56e-5,2.75e-5,2.93e-5,3.11e-5,3.29e-5,3.48e-5,3.66e-5,3.84e-5]],
  [6.4e-6, [1.83e-6,3.66e-6,5.49e-6,7.32e-6,9.15e-6,1.1e-5,1.28e-5,1.46e-5,1.65e-5,1.83e-5,2.01e-5,2.2e-5,2.38e-5,2.56e-5,2.75e-5,2.93e-5,3.11e-5,3.29e-5,3.48e-5,3.66e-5,4.03e-5,4.39e-5,4.76e-5,5.12e-5,6.04e-5]],
  [9.6e-6, [1.83e-6,3.66e-6,5.49e-6,7.32e-6,9.15e-6,1.1e-5,1.28e-5,1.46e-5,1.65e-5,1.83e-5,2.01e-5,2.2e-5,2.38e-5,2.56e-5,2.75e-5,2.93e-5,3.11e-5,3.29e-5,3.48e-5,3.66e-5,4.03e-5,4.39e-5,4.76e-5,5.12e-5,8.9e-5]],
  [1.28e-5, [1.83e-6,3.66e-6,5.49e-6,7.32e-6,9.15e-6,1.1e-5,1.28e-5,1.46e-5,1.65e-5,1.83e-5,2.01e-5,2.2e-5,2.38e-5,2.56e-5,2.75e-5,2.93e-5,3.11e-5,3.29e-5,3.48e-5,3.66e-5,4.03e-5,4.39e-5,4.76e-5,5.12e-5]],
  [1.6e-5, [3.66e-6,5.49e-6,7.32e-6,9.15e-6,1.1e-5,1.28e-5,1.46e-5,1.65e-5,1.83e-5,2.01e-5,2.2e-5,2.38e-5,2.56e-5,2.75e-5,2.93e-5,3.11e-5,3.29e-5,3.48e-5,3.66e-5,4.03e-5,4.39e-5,4.76e-5,5.12e-5,5.49e-5,6.04e-5,6.59e-5]],
  [1.92e-5, [1.83e-6,5.49e-6,7.32e-6,9.15e-6,1.1e-5,1.28e-5,1.46e-5,1.65e-5,1.83e-5,2.01e-5,2.2e-5,2.38e-5,2.56e-5,2.75e-5,2.93e-5,3.11e-5,3.29e-5,3.48e-5,3.66e-5,4.03e-5,4.39e-5,4.76e-5,5.12e-5,5.49e-5,6.04e-5]],
  [2.24e-5, [3.66e-6,5.49e-6,7.32e-6,9.15e-6,1.1e-5,1.28e-5,1.46e-5,1.65e-5,1.83e-5,2.01e-5,2.2e-5,2.38e-5,2.56e-5,2.75e-5,2.93e-5,3.11e-5,3.29e-5,3.48e-5,3.66e-5,4.03e-5,4.39e-5,4.76e-5,5.12e-5,5.49e-5,6.04e-5,6.59e-5]],
  [2.56e-5, [3.66e-6,5.49e-6,7.32e-6,9.15e-6,1.1e-5,1.28e-5,1.46e-5,1.65e-5,1.83e-5,2.01e-5,2.2e-5,2.38e-5,2.56e-5,2.75e-5,2.93e-5,3.11e-5,3.29e-5,3.48e-5,3.66e-5,4.03e-5,4.39e-5,4.76e-5,5.12e-5,5.49e-5,6.04e-5]],
  [2.88e-5, [3.66e-6,5.49e-6,7.32e-6,9.15e-6,1.1e-5,1.28e-5,1.46e-5,1.65e-5,1.83e-5,2.01e-5,2.2e-5,2.38e-5,2.56e-5,2.75e-5,2.93e-5,3.11e-5,3.29e-5,3.48e-5,3.66e-5,4.03e-5,4.39e-5,4.76e-5,5.12e-5,5.49e-5]],
  [3.2e-5, [5.49e-6,7.32e-6,9.15e-6,1.1e-5,1.28e-5,1.46e-5,1.65e-5,1.83e-5,2.01e-5,2.2e-5,2.38e-5,2.56e-5,2.75e-5,2.93e-5,3.11e-5,3.29e-5,3.48e-5,3.66e-5,4.03e-5,4.39e-5,4.76e-5,5.12e-5,5.49e-5]],
  [3.52e-5, [7.32e-6,9.15e-6,1.1e-5,1.28e-5,1.46e-5,1.65e-5,1.83e-5,2.01e-5,2.2e-5,2.38e-5,2.56e-5,2.75e-5,2.93e-5,3.11e-5,3.29e-5,3.48e-5,3.66e-5,4.03e-5,4.39e-5,4.76e-5,5.12e-5,5.49e-5]],
  [3.84e-5, [9.15e-6,1.1e-5,1.28e-5,1.46e-5,1.65e-5,1.83e-5,2.01e-5,2.2e-5,2.38e-5,2.56e-5,2.75e-5,2.93e-5,3.11e-5,3.29e-5,3.48e-5,3.66e-5,4.03e-5,4.39e-5,4.76e-5,5.12e-5,5.49e-5]],
  [4.16e-5, [1.1e-5,1.28e-5,1.46e-5,1.65e-5,1.83e-5,2.01e-5,2.2e-5,2.38e-5,2.56e-5,2.75e-5,2.93e-5,3.11e-5,3.29e-5,3.48e-5,3.66e-5,4.03e-5,4.39e-5,4.76e-5,5.12e-5,5.49e-5]],
  [4.48e-5, [1.1e-5,1.28e-5,1.46e-5,1.65e-5,1.83e-5,2.01e-5,2.2e-5,2.38e-5,2.56e-5,2.75e-5,2.93e-5,3.11e-5,3.29e-5,3.48e-5,3.66e-5,4.03e-5,4.39e-5,4.76e-5,5.12e-5]]
];
const cloudC = [
  [4.7e-5, [2.4e-5,2.9e-5,3.4e-5,4.0e-5,4.7e-5,5.5e-5,6.4e-5,7.5e-5,9.0e-5]],
  [5.0e-5, [2.2e-5,2.7e-5,3.2e-5,3.7e-5,4.4e-5,5.1e-5,5.9e-5,6.9e-5,8.2e-5]],
  [5.3e-5, [2.5e-5,3.0e-5,3.5e-5,4.1e-5,4.8e-5,5.6e-5,6.5e-5,7.6e-5,9.0e-5,1.1e-4]],
  [5.6e-5, [2.3e-5,2.8e-5,3.3e-5,3.9e-5,4.5e-5,5.2e-5,6.1e-5,7.1e-5,8.3e-5,9.8e-5]],
  [5.9e-5, [2.7e-5,3.2e-5,3.7e-5,4.3e-5,5.0e-5,5.8e-5,6.7e-5,7.8e-5,9.2e-5,1.1e-4]],
  [6.2e-5, [2.6e-5,3.0e-5,3.5e-5,4.1e-5,4.7e-5,5.4e-5,6.3e-5,7.3e-5,8.5e-5,1.0e-4]],
  [6.5e-5, [1.6e-5,2.9e-5,3.4e-5,3.9e-5,4.5e-5,5.2e-5,6.0e-5,6.9e-5,8.0e-5,9.3e-5,1.1e-4]],
  [6.9e-5, [2.8e-5,3.3e-5,3.8e-5,4.4e-5,5.0e-5,5.7e-5,6.6e-5,7.6e-5,8.8e-5,1.02e-4,1.2e-4]],
  [7.3e-5, [3.2e-5,3.7e-5,4.3e-5,4.9e-5,5.6e-5,6.4e-5,7.3e-5,8.4e-5,9.7e-5,1.12e-4]],
  [7.7e-5, [3.1e-5,3.6e-5,4.1e-5,4.7e-5,5.4e-5,6.2e-5,7.1e-5,8.1e-5,9.3e-5,1.07e-4,1.25e-4]],
  [8.1e-5, [3.5e-5,4.0e-5,4.6e-5,5.3e-5,6.0e-5,6.9e-5,7.8e-5,8.9e-5,1.02e-4,1.17e-4]],
  [8.6e-5, [3.4e-5,3.9e-5,4.5e-5,5.1e-5,5.8e-5,6.6e-5,7.5e-5,8.6e-5,9.8e-5,1.12e-4,1.3e-4]],
  [9.1e-5, [1.12e-5,3.9e-5,4.5e-5,5.1e-5,5.8e-5,6.6e-5,7.5e-5,8.5e-5,9.6e-5,1.09e-4,1.25e-4]],
  [9.6e-5, [3.8e-5,4.4e-5,5.0e-5,5.7e-5,6.5e-5,7.3e-5,8.3e-5,9.4e-5,1.06e-4,1.2e-4,1.4e-4]],
  [1.02e-4, [4.3e-5,4.9e-5,5.6e-5,6.4e-5,7.2e-5,8.1e-5,9.2e-5,1.04e-4,1.17e-4,1.32e-4,1.52e-4]],
  [1.08e-4, [4.8e-5,5.5e-5,6.2e-5,7.0e-5,7.9e-5,8.9e-5,1.0e-4,1.12e-4,1.26e-4,1.43e-4]],
  [1.14e-4, [4.6e-5,5.3e-5,6.0e-5,6.8e-5,7.7e-5,8.7e-5,9.8e-5,1.1e-4,1.24e-4,1.4e-4,1.62e-4]],
  [1.2e-4, [5.3e-5,6.0e-5,6.8e-5,7.7e-5,8.7e-5,9.8e-5,1.1e-4,1.23e-4,1.38e-4,1.56e-4]],
  [1.27e-4, [5.8e-5,6.6e-5,7.5e-5,8.5e-5,9.5e-5,1.07e-4,1.2e-4,1.34e-4,1.5e-4,1.7e-4]],
  [1.34e-4, [5.6e-5,6.4e-5,7.3e-5,8.3e-5,9.3e-5,1.04e-4,1.16e-4,1.3e-4,1.45e-4,1.63e-4,1.9e-4]],
  [1.41e-4, [6.3e-5,7.2e-5,8.1e-5,9.1e-5,1.02e-4,1.14e-4,1.27e-4,1.42e-4,1.58e-4,1.78e-4]],
  [1.49e-4, [6.9e-5,7.8e-5,8.8e-5,9.9e-5,1.1e-4,1.23e-4,1.37e-4,1.52e-4,1.7e-4,1.92e-4]],
  [1.57e-4, [6.7e-5,7.6e-5,8.6e-5,9.7e-5,1.08e-4,1.2e-4,1.34e-4,1.49e-4,1.66e-4,1.86e-4,2.15e-4]],
  [1.66e-4, [7.5e-5,8.5e-5,9.5e-5,1.07e-4,1.19e-4,1.32e-4,1.47e-4,1.63e-4,1.82e-4,2.05e-4]],
  [1.75e-4, [8.2e-5,9.2e-5,1.03e-4,1.15e-4,1.28e-4,1.42e-4,1.58e-4,1.75e-4,1.95e-4,2.2e-4]],
  [1.85e-4, [8.0e-5,9.0e-5,1.01e-4,1.13e-4,1.26e-4,1.4e-4,1.55e-4,1.72e-4,1.92e-4,2.15e-4,2.5e-4]],
  [1.95e-4, [8.9e-5,1.0e-4,1.12e-4,1.25e-4,1.39e-4,1.54e-4,1.71e-4,1.9e-4,2.12e-4,2.4e-4]],
  [2.06e-4, [9.7e-5,1.09e-4,1.22e-4,1.36e-4,1.51e-4,1.67e-4,1.85e-4,2.05e-4,2.28e-4,2.55e-4]],
  [2.17e-4, [9.5e-5,1.07e-4,1.2e-4,1.34e-4,1.49e-4,1.65e-4,1.83e-4,2.03e-4,2.25e-4,2.5e-4,4.4e-4]],
  [2.3e-4, [1.07e-4,1.2e-4,1.34e-4,1.49e-4,1.65e-4,1.83e-4,2.02e-4,2.24e-4,2.48e-4,2.8e-4]],
  [2.42e-4, [1.15e-4,1.29e-4,1.44e-4,1.6e-4,1.77e-4,1.96e-4,2.17e-4,2.4e-4,2.66e-4,3.0e-4]],
  [2.56e-4, [1.13e-4,1.27e-4,1.42e-4,1.58e-4,1.75e-4,1.94e-4,2.15e-4,2.38e-4,2.64e-4,2.95e-4,3.4e-4]],
  [2.7e-4, [1.27e-4,1.42e-4,1.58e-4,1.75e-4,1.94e-4,2.14e-4,2.37e-4,2.62e-4,2.9e-4,3.25e-4]],
  [2.85e-4, [1.37e-4,1.53e-4,1.7e-4,1.88e-4,2.08e-4,2.3e-4,2.54e-4,2.8e-4,3.1e-4,3.5e-4]],
  [3.0e-4, [1.45e-4,1.62e-4,1.8e-4,1.99e-4,2.2e-4,2.43e-4,2.68e-4,2.96e-4,3.28e-4,3.7e-4]],
  [3.17e-4, [1.55e-4,1.73e-4,1.92e-4,2.13e-4,2.35e-4,2.59e-4,2.86e-4,3.16e-4,3.5e-4,3.95e-4]],
  [3.35e-4, [1.68e-4,1.87e-4,2.07e-4,2.29e-4,2.52e-4,2.78e-4,3.06e-4,3.38e-4,3.75e-4,4.2e-4]],
  [3.53e-4, [1.77e-4,1.97e-4,2.18e-4,2.41e-4,2.66e-4,2.93e-4,3.23e-4,3.57e-4,3.96e-4,4.45e-4]],
  [3.72e-4, [1.9e-4,2.11e-4,2.34e-4,2.58e-4,2.84e-4,3.13e-4,3.45e-4,3.81e-4,4.23e-4,4.75e-4]],
  [3.93e-4, [2.03e-4,2.25e-4,2.49e-4,2.74e-4,3.02e-4,3.33e-4,3.66e-4,4.05e-4,4.5e-4,5.1e-4]],
  [4.15e-4, [2.17e-4,2.4e-4,2.65e-4,2.92e-4,3.21e-4,3.54e-4,3.9e-4,4.31e-4,4.8e-4]],
  [4.38e-4, [2.3e-4,2.55e-4,2.82e-4,3.1e-4,3.41e-4,3.76e-4,4.14e-4,4.58e-4,5.1e-4,5.8e-4]],
  [4.62e-4, [2.5e-4,2.77e-4,3.05e-4,3.35e-4,3.68e-4,4.05e-4,4.45e-4,4.92e-4,5.5e-4]],
  [4.88e-4, [2.65e-4,2.93e-4,3.23e-4,3.55e-4,3.9e-4,4.29e-4,4.72e-4,5.2e-4,5.8e-4,6.6e-4]],
  [5.15e-4, [2.85e-4,3.15e-4,3.47e-4,3.82e-4,4.2e-4,4.62e-4,5.08e-4,5.6e-4,6.2e-4]],
  [5.45e-4, [3.0e-4,3.32e-4,3.66e-4,4.02e-4,4.42e-4,4.86e-4,5.35e-4,5.9e-4,6.55e-4,7.4e-4]],
  [5.75e-4, [3.6e-4,3.96e-4,4.35e-4,4.78e-4,5.25e-4,5.77e-4,6.35e-4,7.0e-4]],
  [6.1e-4, [3.45e-4,3.85e-4,4.24e-4,4.66e-4,5.12e-4,5.62e-4,6.18e-4,6.8e-4,7.6e-4]],
  [6.45e-4, [4.15e-4,4.56e-4,5.01e-4,5.5e-4,6.04e-4,6.63e-4,7.3e-4,8.1e-4]],
  [6.85e-4, [4.0e-4,4.45e-4,4.9e-4,5.38e-4,5.9e-4,6.48e-4,7.12e-4,7.85e-4,8.8e-4]],
  [7.25e-4, [4.8e-4,5.27e-4,5.78e-4,6.34e-4,6.96e-4,7.65e-4,8.4e-4]],
  [7.7e-4, [4.7e-4,5.2e-4,5.7e-4,6.25e-4,6.85e-4,7.5e-4,8.25e-4,9.1e-4]],
  [8.2e-4, [5.55e-4,6.1e-4,6.7e-4,7.35e-4,8.05e-4,8.85e-4,9.8e-4]],
  [8.7e-4, [5.4e-4,6.0e-4,6.6e-4,7.25e-4,7.95e-4,8.7e-4,9.6e-4,1.07e-3]],
  [9.2e-4, [6.4e-4,7.05e-4,7.75e-4,8.5e-4,9.3e-4,1.03e-3]],
  [9.8e-4, [6.3e-4,7.0e-4,7.7e-4,8.45e-4,9.25e-4,1.01e-3,1.12e-3]],
  [1.04e-3, [7.5e-4,8.25e-4,9.05e-4,9.9e-4,1.09e-3,1.2e-3]],
  [1.1e-3, [7.5e-4,8.3e-4,9.1e-4,1.0e-3,1.09e-3,1.2e-3,1.35e-3]],
  [1.18e-3, [8.8e-4,9.7e-4,1.06e-3,1.17e-3,1.3e-3]],
  [1.26e-3, [9.0e-4,1.0e-3,1.1e-3,1.22e-3,1.35e-3,1.55e-3]],
  [1.35e-3, [1.04e-3,1.15e-3,1.28e-3,1.43e-3]],
  [1.45e-3, [1.08e-3,1.22e-3,1.37e-3,1.55e-3,1.8e-3]],
  [1.56e-3, [1.2e-3,1.36e-3,1.55e-3,1.8e-3]],
  [1.7e-3, [1.3e-3,1.5e-3,1.75e-3,2.05e-3]],
  [1.85e-3, [1.45e-3,1.7e-3,2.0e-3]],
  [2.0e-3, [1.6e-3,1.9e-3,2.25e-3]],
  [2.2e-3, [1.85e-3,2.2e-3,2.6e-3]],
  [2.45e-3, [2.0e-3,2.45e-3,2.9e-3]],
  [2.7e-3, [2.3e-3,2.8e-3,3.3e-3]]
];
const fringeC = [
  [5.0e-5,8.8e-5],[5.7e-5,9.5e-5],[6.4e-5,1.14e-4],[7.2e-5,1.22e-4],[8.0e-5,1.45e-4],[8.9e-5,1.5e-4],[9.8e-5,1.78e-4],
  [1.08e-4,1.8e-4],[1.2e-4,2.15e-4],[1.32e-4,2.2e-4],[1.45e-4,2.6e-4],[1.6e-4,2.65e-4],[1.76e-4,3.15e-4],[1.93e-4,3.2e-4],
  [2.12e-4,3.8e-4],[2.33e-4,3.85e-4],[2.56e-4,4.55e-4],[2.82e-4,4.6e-4],[3.1e-4,5.4e-4],[3.4e-4,5.5e-4],[3.75e-4,6.4e-4],
  [4.1e-4,6.5e-4],[4.5e-4,7.5e-4],[5.0e-4,7.7e-4],[5.5e-4,8.8e-4],[6.1e-4,9.2e-4],[6.7e-4,1.04e-3],[7.4e-4,1.1e-3],
  [8.2e-4,1.22e-3],[9.0e-4,1.3e-3],
  [5.4e-5,2.6e-5],[6.0e-5,3.1e-5],[6.7e-5,3.2e-5],[7.5e-5,3.8e-5],[8.3e-5,3.9e-5],[9.2e-5,4.6e-5],[1.02e-4,4.8e-5],
  [1.13e-4,5.6e-5],[1.25e-4,5.9e-5],[1.38e-4,6.8e-5],[1.52e-4,7.1e-5],[1.68e-4,8.2e-5],[1.85e-4,8.6e-5],[2.04e-4,9.9e-5],
  [2.25e-4,1.04e-4],[2.48e-4,1.2e-4],[2.74e-4,1.26e-4],[3.02e-4,1.45e-4],[3.33e-4,1.52e-4],[3.67e-4,1.75e-4],[4.05e-4,1.85e-4],
  [4.47e-4,2.13e-4],[4.93e-4,2.25e-4],[5.44e-4,2.6e-4],[6.0e-4,2.75e-4],[6.6e-4,3.15e-4],[7.3e-4,3.35e-4],[8.1e-4,3.85e-4]
];
const spotsC = [
  [5.3e-2,4.7e-2],[3.1e-2,2.9e-2],[2.3e-2,2.2e-2],[1.9e-2,2.9e-2],[2.0e-2,2.6e-2],[1.7e-2,1.42e-2],[1.93e-2,1.27e-2],
  [1.22e-2,1.59e-2],[1.34e-2,1.98e-2],[7.9e-3,1.27e-2],[8.9e-3,1.14e-2],[8.2e-3,9.5e-3],[9.3e-3,8.0e-3],[1.0e-2,6.4e-3],
  [7.1e-3,8.6e-3],[7.6e-3,6.6e-3],[6.1e-3,7.3e-3],[5.3e-3,7.9e-3],[5.7e-3,6.2e-3],[4.7e-3,6.4e-3],[5.0e-3,5.3e-3],
  [4.15e-3,5.4e-3],[5.3e-3,4.6e-3],[4.6e-3,4.1e-3],[3.9e-3,3.9e-3],[3.4e-3,4.5e-3],[4.5e-3,2.66e-3],[3.76e-3,3.6e-3],
  [2.95e-3,3.2e-3],[2.3e-3,4.3e-3],[2.67e-3,2.7e-3],[2.8e-3,1.95e-3],[2.25e-3,2.5e-3],[2.1e-3,2.3e-3],[2.4e-3,2.2e-3],
  [2.3e-3,1.26e-3],[1.64e-3,2.18e-3],[1.34e-3,1.85e-3],[1.9e-3,7.7e-4],[1.1e-3,4.2e-4],[1.56e-3,7.9e-4],[5.8e-4,1.66e-3],
  [4.4e-4,1.06e-3],[4.6e-4,1.46e-4],[1.99e-4,5.4e-5],[3.8e-5,1.82e-4],[3.2e-3,2.9e-3],[2.6e-3,3.5e-3],[1.5e-3,1.1e-3],
  [1.8e-3,2.2e-3],[2.0e-3,2.0e-3],[2.2e-3,1.8e-3],[2.6e-3,2.4e-3],[1.6e-3,1.4e-3],[3.0e-3,2.6e-3],[2.5e-3,2.9e-3],
  [1.2e-4,4.5e-5],[1.5e-4,5.5e-5],[2.5e-4,9.0e-5],[3.5e-4,1.3e-4],[6.0e-4,2.6e-4],[8.0e-4,3.6e-4],[1.3e-3,6.5e-4],
  [8.0e-5,2.0e-4],[1.5e-4,3.4e-4],[2.5e-4,5.5e-4],
  [6.0e-5,1.4e-4],[8.0e-5,1.75e-4],[1.1e-4,2.3e-4],[1.5e-4,3.1e-4],[2.1e-4,4.3e-4],[3.0e-4,6.0e-4],[4.2e-4,8.3e-4],[6.0e-4,1.15e-3],
  [1.3e-4,5.0e-5],[1.7e-4,6.6e-5],[2.2e-4,8.7e-5],[2.9e-4,1.15e-4],[3.8e-4,1.55e-4],[5.0e-4,2.1e-4],[6.5e-4,2.8e-4],[8.5e-4,3.7e-4]
];
const genesC = [];

// axis titles
const titleNO3 = { pre: 'Relative transcript abundance (NO', sub: '3', sup: '-', post: ')' };
const titleNH4 = { pre: 'Relative transcript abundance (NH', sub: '4', sup: '+', post: ')' };
const titleUrea = { pre: 'Relative transcript abundance (urea)' };

// where each gene label sits relative to its point: [dx, dy, align]
const labelLayoutA = {
  'cpcA': [6, -2, 'left'], 'cpcB': [-21, -11, 'left'], 'psbA': [10, -8, 'left'], '(A1418)': [1, 10, 'left'],
  'psaA': [5, 9, 'left'], 'rbcL': [-10, -10, 'left'], 'A2177': [-3, -1, 'right'], 'ccmM': [-14, -10, 'left'],
  'rbcS': [-22, -8, 'left'], 'ccmK': [3.5, -2, 'left'], 'rbcX': [-23, -14, 'left'], 'ccmL': [-6, -1, 'right'],
  'A0125': [6.5, -2.5, 'left'], 'nirA': [4.5, -1, 'left'], 'A1213': [4.5, 4.5, 'left'], 'narK/nrtP': [7, 5, 'left'],
  'A1619': [2.5, 3.5, 'left'], 'narB': [4.5, -3, 'left'], 'A0568': [2.5, -2.5, 'left']
};
const labelLayoutB = {
  'cpcA': [5, -7, 'left'], 'A2813': [-10, -1.5, 'right'], 'psbA': [7.5, -8, 'left'], '(A1418)': [-1, 10.5, 'left'],
  'apcB': [5.5, 7, 'left'], 'psbB': [3.5, 5, 'left'], 'rbcL': [0, -7, 'right'], 'A1034': [26, -11, 'right'],
  'ccmM': [-0.5, -7, 'right'], 'rbcX': [0, -7, 'right'], 'rbcS': [-15, 3.5, 'right'], 'trx': [6, 1.5, 'left'],
  'A1180': [11.5, 2.5, 'left'], 'psaE': [3.5, 4, 'left'], 'psbD': [4, 6.5, 'left'], 'nirA': [6, 1, 'left'],
  'A0125': [5.5, 3, 'left'], 'A1213': [5.5, 0, 'left'], 'narK/nrtP': [6.5, 1, 'left'], 'narB': [5.5, 1.5, 'left']
};

const panels = {
  panelA: {
    letter: 'A', letterAt: [8, 20.7],
    area: { left: 77.7, top: 44.3, right: 470, bottom: 392 }, tickPad: { x: 7, y: 6 },
    xTitle: { text: titleNO3, at: [272, 445], size: 17 },
    yTitle: { text: titleNH4, at: [13, 198], size: 19.5 },
    grid: gridA, cloud: cloudA, fringe: fringeA, spots: spotsA, genes: genesA, layout: labelLayoutA
  },
  panelB: {
    letter: 'B', letterAt: [23, 20],
    area: { left: 96, top: 37.3, right: 493.3, bottom: 394.3 }, tickPad: { x: 4, y: 7 },
    xTitle: { text: titleNO3, at: [292, 445], size: 17 },
    yTitle: { text: titleUrea, at: [31.5, 219], size: 17 },
    grid: gridB, cloud: cloudB, fringe: fringeB, spots: spotsB, genes: genesB, layout: labelLayoutB
  },
  panelC: {
    letter: 'C', letterAt: [7.5, 50.7],
    area: { left: 76.7, top: 77.7, right: 468.3, bottom: 425.7 }, tickPad: { x: 7.5, y: 4.5 },
    xTitle: { text: titleNH4, at: [272.5, 478], size: 17 },
    yTitle: { text: titleUrea, at: [13.3, 247.5], size: 17 },
    grid: gridC, cloud: cloudC, fringe: fringeC, spots: spotsC, genes: genesC, layout: {}
  }
};

const FONT = '"Liberation Sans", Arial, sans-serif';

function expand(columns) {
  const pts = [];
  columns.forEach(([x, ys]) => ys.forEach(y => pts.push({ x, y })));
  return pts;
}

// title with an optional stacked sub/superscript (NH4+, NO3-)
function drawTitle(ctx, t, cx, cy, size, vertical) {
  const big = size + 'px ' + FONT;
  const small = Math.round(size * 0.6) + 'px ' + FONT;
  ctx.save();
  ctx.translate(cx, cy);
  if (vertical) ctx.rotate(-Math.PI / 2);
  ctx.font = big;
  const wPre = ctx.measureText(t.pre).width;
  const wPost = t.post ? ctx.measureText(t.post).width : 0;
  ctx.font = small;
  const wScript = t.sub ? Math.max(ctx.measureText(t.sub).width, ctx.measureText(t.sup).width) + 1.5 : 0;
  let x = -(wPre + wScript + wPost) / 2;
  const base = size * 0.36;
  ctx.fillStyle = '#1a1a1a';
  ctx.textAlign = 'left';
  ctx.textBaseline = 'alphabetic';
  ctx.font = big;
  ctx.fillText(t.pre, x, base);
  x += wPre;
  if (t.sub) {
    ctx.font = small;
    ctx.fillText(t.sub, x + 0.5, base + size * 0.2);
    ctx.fillText(t.sup, x + 0.5, base - size * 0.42);
    x += wScript;
  }
  if (t.post) {
    ctx.font = big;
    ctx.fillText(t.post, x, base);
  }
  ctx.restore();
}

const textPlugin = {
  id: 'panelText',
  afterDatasetsDraw(chart) {
    const p = panels[chart.canvas.id];
    const ctx = chart.ctx;
    const sx = chart.scales.x, sy = chart.scales.y;
    ctx.save();
    ctx.fillStyle = '#1a1a1a';
    ctx.textBaseline = 'middle';
    p.genes.forEach(([name, gx, gy]) => {
      const [dx, dy, align] = p.layout[name];
      ctx.font = (/^[a-z]/.test(name) ? 'italic ' : '') + '15px "Open Sans", "Noto Sans", sans-serif';
      ctx.textAlign = align;
      ctx.fillText(name, sx.getPixelForValue(gx) + dx, sy.getPixelForValue(gy) + dy);
    });
    ctx.restore();
    drawTitle(ctx, p.xTitle.text, p.xTitle.at[0], p.xTitle.at[1], p.xTitle.size, false);
    drawTitle(ctx, p.yTitle.text, p.yTitle.at[0], p.yTitle.at[1], p.yTitle.size, true);
    ctx.save();
    ctx.font = 'bold 14px ' + FONT;
    ctx.fillStyle = '#000';
    ctx.textAlign = 'left';
    ctx.textBaseline = 'alphabetic';
    ctx.fillText(p.letter, p.letterAt[0], p.letterAt[1]);
    ctx.restore();
  }
};

function logAxis(pad, fit) {
  return {
    type: 'logarithmic',
    min: 1e-6,
    max: 1e-1,
    afterBuildTicks: s => { s.ticks = decadeTicks.map(v => ({ value: v })); },
    afterFit: fit,
    grid: { drawOnChartArea: false, drawTicks: true, tickLength: 4, color: '#bfbfbf', lineWidth: 1 },
    border: { display: true, color: '#bfbfbf', width: 1 },
    ticks: {
      autoSkip: false, maxRotation: 0, minRotation: 0, padding: pad, color: '#404040',
      font: { family: FONT, size: 10 },
      callback: (v, i) => decadeLabels[i]
    }
  };
}

function dots(data, radius) {
  return {
    data,
    pointStyle: 'rect',
    pointRadius: radius,
    pointHoverRadius: radius,
    backgroundColor: '#000',
    borderWidth: 0
  };
}

function guide(line) {
  return {
    type: 'line',
    data: line.map(([x, y]) => ({ x, y })),
    borderColor: '#c4c4c4', borderWidth: 1, pointRadius: 0, fill: false, tension: 0
  };
}

Object.keys(panels).forEach(id => {
  const p = panels[id];
  const canvas = document.getElementById(id);
  const W = canvas.width, H = canvas.height;
  const single = [
    ...p.fringe.map(([x, y]) => ({ x, y })),
    ...p.spots.map(([x, y]) => ({ x, y })),
    ...p.genes.map(([, x, y]) => ({ x, y }))
  ];
  new Chart(canvas.getContext('2d'), {
    type: 'scatter',
    data: {
      datasets: [
        dots(expand(p.cloud), 1.85),
        dots(single, 1.5),
        dots(expand(p.grid), 1.4),
        guide(twoFoldUp),
        guide(twoFoldDown)
      ]
    },
    options: {
      responsive: false,
      animation: false,
      events: [],
      layout: { padding: { left: 0, top: p.area.top, right: W - p.area.right, bottom: 0 } },
      plugins: { legend: { display: false }, tooltip: { enabled: false } },
      scales: {
        x: Object.assign(logAxis(p.tickPad.x, s => { s.height = H - p.area.bottom; }), { position: 'bottom' }),
        y: Object.assign(logAxis(p.tickPad.y, s => { s.width = p.area.left; }), { position: 'left' })
      }
    },
    plugins: [textPlugin]
  });
});
</script>
</body>
</html>
